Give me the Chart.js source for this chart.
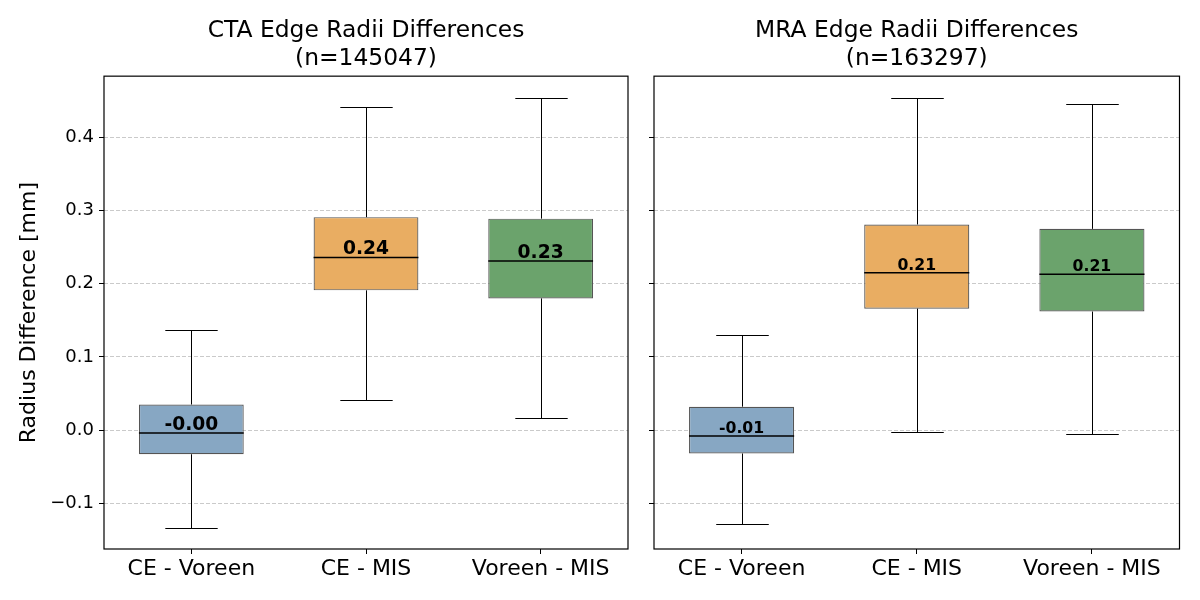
<!DOCTYPE html>
<html>
<head>
<meta charset="utf-8">
<script src="https://cdn.jsdelivr.net/npm/chart.js@4.4.1/dist/chart.umd.min.js"></script>
<style>
    html, body { margin: 0; padding: 0; background: #fff; }
    #wrap { position: relative; width: 1200px; height: 600px; }
    .panel { position: absolute; top: 0; height: 600px; }
</style>
</head>
<body>
<div id="wrap">
    <div class="panel" style="left:0;width:640px"><canvas id="ctaChart" width="640" height="600"></canvas></div>
    <div class="panel" style="left:640px;width:560px"><canvas id="mraChart" width="560" height="600"></canvas></div>
</div>
<script>
// Box plot of edge radii differences, CTA vs MRA

const categories = ['CE - Voreen', 'CE - MIS', 'Voreen - MIS'];
const boxColors = ['#87a7c3', '#e9ad62', '#6ba36c'];

const yTicks = [-0.1, 0.0, 0.1, 0.2, 0.3, 0.4];
const yTickLabels = ['\u22120.1', '0.0', '0.1', '0.2', '0.3', '0.4'];
const yMin = -0.1625;
const yMax = 0.4837;

// CTA (n=145047)
const ctaQ1 = [-0.033, 0.191, 0.180];
const ctaQ3 = [0.035, 0.291, 0.289];
const ctaMedian = [-0.004, 0.236, 0.231];
const ctaLow = [-0.134, 0.041, 0.017];
const ctaHigh = [0.137, 0.441, 0.454];
const ctaLabels = ['-0.00', '0.24', '0.23'];

// MRA (n=163297)
const mraQ1 = [-0.032, 0.166, 0.162];
const mraQ3 = [0.032, 0.281, 0.275];
const mraMedian = [-0.008, 0.215, 0.213];
const mraLow = [-0.129, -0.002, -0.006];
const mraHigh = [0.130, 0.454, 0.446];
const mraLabels = ['-0.01', '0.21', '0.21'];

const FONT = '"DejaVu Sans", "Liberation Sans", sans-serif';

const boxPlotPlugin = {
    id: 'boxPlot',
    afterDatasetsDraw(chart, args, opts) {
        const { ctx, chartArea } = chart;
        const y = chart.scales.y;
        const meta = chart.getDatasetMeta(0);
        ctx.save();
        meta.data.forEach((bar, i) => {
            const x = Math.round(bar.x) + 0.5;
            const w = bar.width;
            const pQ1 = y.getPixelForValue(opts.q1[i]);
            const pQ3 = y.getPixelForValue(opts.q3[i]);
            const pLow = Math.round(y.getPixelForValue(opts.low[i])) + 0.5;
            const pHigh = Math.round(y.getPixelForValue(opts.high[i])) + 0.5;
            const pMed = y.getPixelForValue(opts.median[i]);

            // whiskers + caps
            ctx.strokeStyle = '#000';
            ctx.lineWidth = 1;
            ctx.beginPath();
            ctx.moveTo(x, pQ3); ctx.lineTo(x, pHigh);
            ctx.moveTo(x, pQ1); ctx.lineTo(x, pLow);
            ctx.moveTo(x - w / 4, pHigh); ctx.lineTo(x + w / 4, pHigh);
            ctx.moveTo(x - w / 4, pLow); ctx.lineTo(x + w / 4, pLow);
            ctx.stroke();

            // median
            ctx.lineWidth = 1.5;
            ctx.beginPath();
            ctx.moveTo(bar.x - w / 2, pMed); ctx.lineTo(bar.x + w / 2, pMed);
            ctx.stroke();

            // value label
            ctx.fillStyle = '#000';
            ctx.font = `bold ${opts.labelSize}px ${FONT}`;
            ctx.textAlign = 'center';
            ctx.textBaseline = 'alphabetic';
            ctx.fillText(opts.labels[i], bar.x, pMed - 3);
        });

        // axes frame
        ctx.strokeStyle = '#000';
        ctx.lineWidth = 1.2;
        ctx.strokeRect(chartArea.left, chartArea.top,
            chartArea.right - chartArea.left, chartArea.bottom - chartArea.top);
        ctx.restore();
    }
};

function makeChart(canvasId, title, q1, q3, median, low, high, labels, cfg) {
    const ctx = document.getElementById(canvasId).getContext('2d');
    return new Chart(ctx, {
        type: 'bar',
        data: {
            labels: categories,
            datasets: [{
                data: q1.map((v, i) => [v, q3[i]]),
                backgroundColor: boxColors,
                borderColor: '#555555',
                borderWidth: 1.2,
                borderSkipped: false,
                barPercentage: 0.6,
                categoryPercentage: 1.0,
            }]
        },
        options: {
            responsive: false,
            animation: false,
            layout: { padding: { right: cfg.padRight, left: 0, top: 0, bottom: 0 } },
            plugins: {
                legend: { display: false },
                tooltip: { enabled: false },
                title: {
                    display: true,
                    fullSize: false,
                    text: title,
                    color: '#000',
                    font: { family: FONT, size: 23.4, weight: 'normal', lineHeight: 1.2 },
                    padding: { top: 17, bottom: 3 },
                },
                boxPlot: { q1, q3, median, low, high, labels, labelSize: cfg.labelSize },
            },
            scales: {
                x: {
                    offset: true,
                    grid: {
                        display: true,
                        drawOnChartArea: false,
                        drawTicks: true,
                        offset: false,
                        tickLength: 5,
                        tickColor: '#000',
                    },
                    border: { display: false },
                    ticks: {
                        color: '#000',
                        padding: 2,
                        font: { family: FONT, size: 22 },
                    },
                    afterFit(scale) { scale.height = 51; },
                },
                y: {
                    min: yMin,
                    max: yMax,
                    afterBuildTicks(scale) {
                        scale.ticks = yTicks.map(v => ({ value: v }));
                    },
                    grid: {
                        color: '#c4c4c4',
                        lineWidth: 0.9,
                        tickLength: 5,
                        tickColor: '#000',
                        tickWidth: 1,
                    },
                    border: { display: false, dash: [4, 2] },
                    ticks: {
                        display: cfg.showTickLabels,
                        color: '#000',
                        padding: 5,
                        font: { family: FONT, size: 18 },
                        callback: (v) => {
                            const idx = yTicks.findIndex(t => Math.abs(t - v) < 1e-9);
                            return idx >= 0 ? yTickLabels[idx] : '';
                        },
                    },
                    title: {
                        display: cfg.showYTitle,
                        text: 'Radius Difference [mm]',
                        color: '#000',
                        font: { family: FONT, size: 22 },
                        padding: { top: 16, bottom: 4 },
                    },
                    afterFit(scale) { scale.width = cfg.yWidth; },
                },
            },
        },
        plugins: [boxPlotPlugin],
    });
}

makeChart('ctaChart', ['CTA Edge Radii Differences', '(n=145047)'],
    ctaQ1, ctaQ3, ctaMedian, ctaLow, ctaHigh, ctaLabels,
    { padRight: 12, yWidth: 104, showTickLabels: true, showYTitle: true, labelSize: 18.7 });

makeChart('mraChart', ['MRA Edge Radii Differences', '(n=163297)'],
    mraQ1, mraQ3, mraMedian, mraLow, mraHigh, mraLabels,
    { padRight: 20.5, yWidth: 14, showTickLabels: false, showYTitle: false, labelSize: 15.7 });
</script>
</body>
</html>
